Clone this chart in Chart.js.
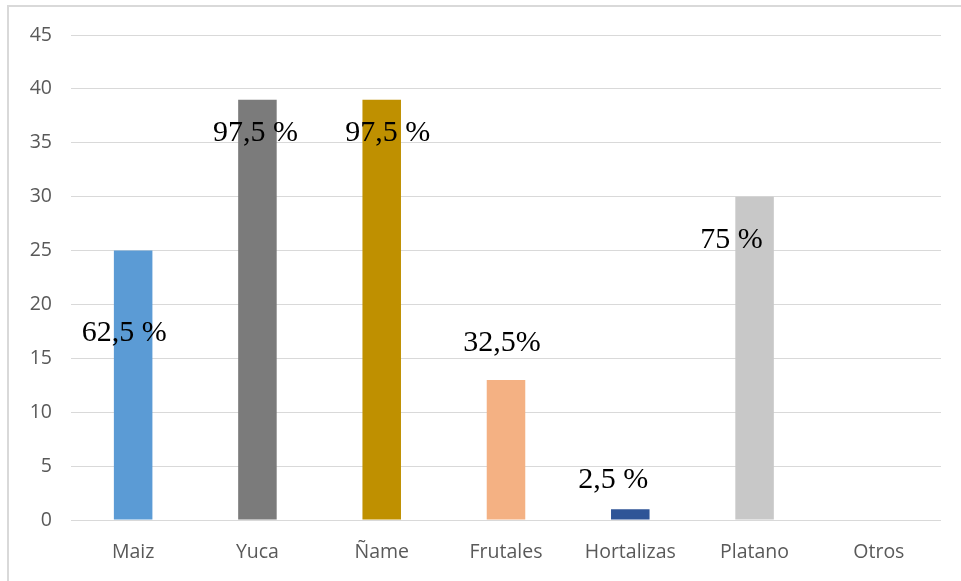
<!DOCTYPE html>
<html>
<head>
<meta charset="utf-8">
<script src="https://cdn.jsdelivr.net/npm/chart.js@4/dist/chart.umd.min.js"></script>
<style>
  html, body { margin: 0; padding: 0; background: #ffffff; }
  #wrap { position: relative; width: 961px; height: 581px; overflow: hidden; }
  #frame { position: absolute; left: 7px; top: 5px; width: 1000px; height: 640px;
           border-left: 2px solid #d9d9d9; border-top: 2px solid #d9d9d9; box-sizing: border-box; }
  canvas { position: absolute; left: 0; top: 0; }
</style>
</head>
<body>
<div id="wrap">
  <div id="frame"></div>
  <canvas id="c" width="961" height="581"></canvas>
</div>
<script>
// Cultivos
const categories = ['Maiz', 'Yuca', 'Ñame', 'Frutales', 'Hortalizas', 'Platano', 'Otros'];
const counts = [25, 39, 39, 13, 1, 30, 0];
const percentLabels = ['62,5 %', '97,5 %', '97,5 %', '32,5%', '2,5 %', '75 %', ''];
const barColors = ['#5b9bd5', '#7b7b7b', '#bf9000', '#f4b183', '#2f5597', '#c8c8c8', '#a5a5a5'];
const yTicks = [0, 5, 10, 15, 20, 25, 30, 35, 40, 45];

// Percentage labels, shifted from each bar's top-centre
const labelOffsets = [[-9, 83], [-2, 33], [6, 33], [-4, -37], [-17, -29], [-23, 43], [0, 0]];

const percentLabelPlugin = {
  id: 'percentLabels',
  afterDatasetsDraw(chart) {
    const ctx = chart.ctx;
    const meta = chart.getDatasetMeta(0);
    ctx.save();
    ctx.font = '30px "Liberation Serif", "Times New Roman", serif';
    ctx.fillStyle = '#000000';
    ctx.textAlign = 'center';
    ctx.textBaseline = 'middle';
    meta.data.forEach((bar, i) => {
      const txt = percentLabels[i];
      if (!txt) return;
      const [dx, dy] = labelOffsets[i];
      ctx.fillText(txt, bar.x + dx, bar.y + dy);
    });
    ctx.restore();
  }
};

const axisFont = { family: '"Open Sans", Lato, sans-serif', size: 19.5 };

new Chart(document.getElementById('c'), {
  type: 'bar',
  data: {
    labels: categories,
    datasets: [{
      data: counts,
      backgroundColor: barColors,
      borderWidth: 0,
      barPercentage: 0.31,
      categoryPercentage: 1.0
    }]
  },
  options: {
    responsive: false,
    animation: false,
    layout: { padding: { left: 0, right: 20, top: 35, bottom: 0 } },
    plugins: { legend: { display: false }, tooltip: { enabled: false } },
    scales: {
      x: {
        grid: { display: false, drawTicks: false },
        border: { display: false },
        ticks: { color: '#595959', padding: 21, font: axisFont },
        afterFit(scale) { scale.height = 61; }
      },
      y: {
        min: 0, max: 45,
        afterBuildTicks(scale) { scale.ticks = yTicks.map(v => ({ value: v })); },
        grid: { color: '#d9d9d9', lineWidth: 1, drawTicks: false },
        border: { display: false },
        ticks: { color: '#595959', padding: 19, font: axisFont },
        afterFit(scale) { scale.width = 71; }
      }
    }
  },
  plugins: [percentLabelPlugin]
});
</script>
</body>
</html>
